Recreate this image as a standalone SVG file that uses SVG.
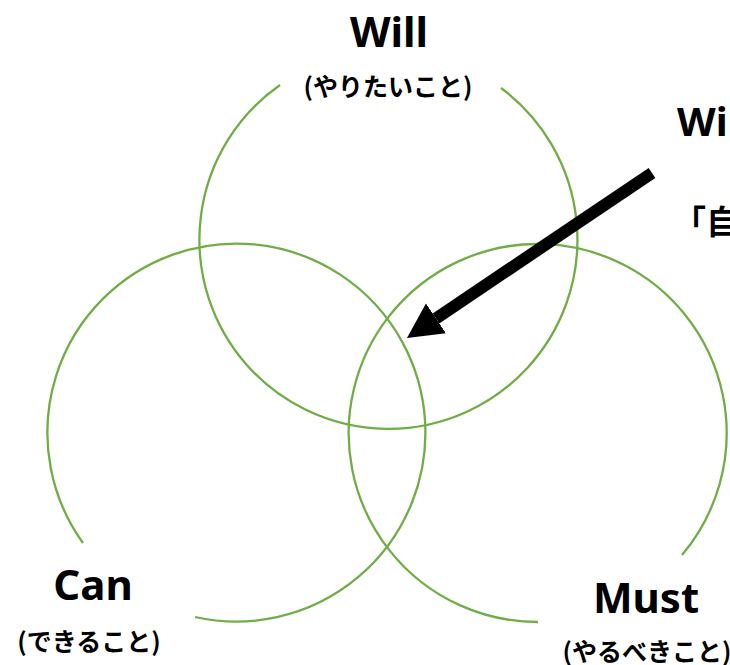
<svg xmlns="http://www.w3.org/2000/svg" width="730" height="665" viewBox="0 0 730 665">
<style>
.ring{fill:none;stroke:#70AD47;stroke-width:2.3}
.title{font-family:"Noto Sans","Noto Sans CJK JP",sans-serif;font-weight:700;font-size:42px;fill:#000;text-anchor:middle}
.sub{font-family:"Noto Sans CJK JP","Noto Sans",sans-serif;font-weight:700;font-size:25px;fill:#000;text-anchor:middle}
.side{font-family:"Noto Sans","Noto Sans CJK JP",sans-serif;font-weight:700;font-size:40px;fill:#000}
.side2{font-family:"Noto Sans CJK JP","Noto Sans",sans-serif;font-weight:700;font-size:33px;fill:#000}
.arrow{stroke:#000;stroke-width:12;fill:none}
</style>
<defs>
<marker id="head" markerUnits="userSpaceOnUse" markerWidth="36" markerHeight="38" refX="0" refY="18" orient="auto">
<path d="M0,0 L35,18 L0,36 Z" fill="#000"/>
</marker>
</defs>
<rect width="730" height="665" fill="#fff"/>
<g id="will">
<path class="ring" d="M280 85 A189 189 0 1 0 501 88"/>
<text class="title" x="389" y="47">Will</text>
<text class="sub" x="388" y="96">(やりたいこと)</text>
</g>
<g id="can">
<path class="ring" d="M83 543 A189 189 0 1 1 195 617"/>
<text class="title" x="93" y="600">Can</text>
<text class="sub" x="89" y="651">(できること)</text>
</g>
<g id="must">
<path class="ring" d="M538 622 A189 189 0 1 1 682 555"/>
<text class="title" x="646" y="613">Must</text>
<text class="sub" x="647" y="661">(やるべきこと)</text>
</g>
<g id="label">
<text class="side" x="677" y="136">Wi</text>
<text class="side2" x="673" y="234">「自</text>
</g>
<g id="connectors">
<line class="arrow" x1="652" y1="173" x2="436" y2="318.4" marker-end="url(#head)"/>
</g>
</svg>
